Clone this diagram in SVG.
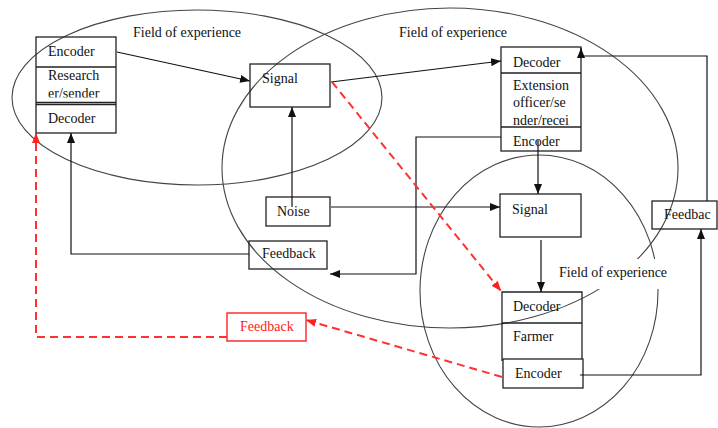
<svg xmlns="http://www.w3.org/2000/svg" width="718" height="428" viewBox="0 0 718 428">
<style>
  .t{font-family:"Liberation Serif","Times New Roman",serif;font-size:14px;fill:#111}
  .tr{font-family:"Liberation Serif","Times New Roman",serif;font-size:14px;fill:#ff1a1a}
  .box{fill:none;stroke:#222;stroke-width:1.3}
  .rbox{fill:#fff;stroke:#ff2020;stroke-width:1.4}
  .ell{fill:none;stroke:#444;stroke-width:1.1}
  .ln{fill:none;stroke:#111;stroke-width:1.2}
  .rd{fill:none;stroke:#ff3030;stroke-width:2;stroke-dasharray:8 5}
</style>
<defs>
  <marker id="ab" markerUnits="userSpaceOnUse" markerWidth="10" markerHeight="8" refX="10" refY="4" orient="auto">
    <path d="M0,0 L10,4 L0,8 z" fill="#111"/>
  </marker>
  <marker id="ar" markerUnits="userSpaceOnUse" markerWidth="10" markerHeight="8" refX="10" refY="4" orient="auto">
    <path d="M0,0 L10,4 L0,8 z" fill="#ff2020"/>
  </marker>
  <clipPath id="c1"><rect x="36" y="67" width="80" height="30.5"/></clipPath>
  <clipPath id="c2"><rect x="501" y="73" width="80" height="53"/></clipPath>
</defs>
<rect width="718" height="428" fill="#fff"/>

<g id="field1">
  <ellipse class="ell" cx="197" cy="97.5" rx="185" ry="87.5"/>
  <text class="t" x="133" y="37">Field of experience</text>
</g>
<g id="field2">
  <ellipse class="ell" cx="450" cy="168" rx="228" ry="160"/>
  <text class="t" x="399" y="37">Field of experience</text>
</g>
<g id="field3">
  <ellipse class="ell" cx="539" cy="291" rx="119" ry="136"/>
  <rect x="555" y="259" width="118" height="30" fill="#fff"/>
  <text class="t" x="559" y="277">Field of experience</text>
</g>

<g id="researcher">
  <rect class="box" x="36" y="37" width="80" height="96"/>
  <line class="box" x1="36" y1="67" x2="116" y2="67"/>
  <line class="box" x1="36" y1="102.5" x2="116" y2="102.5"/>
  <line class="box" x1="36" y1="104.5" x2="116" y2="104.5"/>
  <text class="t" x="48" y="56">Encoder</text>
  <g clip-path="url(#c1)">
    <text class="t" x="48" y="80">Research</text>
    <text class="t" x="48" y="98">er/sender</text>
  </g>
  <text class="t" x="48" y="123">Decoder</text>
</g>

<g id="signal1">
  <rect class="box" x="250" y="64" width="80" height="43"/>
  <text class="t" x="262" y="83">Signal</text>
</g>

<g id="extension">
  <rect class="box" x="501" y="47" width="80" height="104"/>
  <line class="box" x1="501" y1="73" x2="581" y2="73"/>
  <line class="box" x1="501" y1="127" x2="581" y2="127"/>
  <text class="t" x="513" y="67">Decoder</text>
  <g clip-path="url(#c2)">
    <text class="t" x="513" y="90">Extension</text>
    <text class="t" x="513" y="107">officer/se</text>
    <text class="t" x="513" y="124.5">nder/recei</text>
  </g>
  <text class="t" x="513" y="146">Encoder</text>
</g>

<g id="noise">
  <rect class="box" x="266" y="197" width="64" height="29"/>
  <text class="t" x="277" y="216">Noise</text>
</g>

<g id="feedback1">
  <rect class="box" x="249" y="241" width="78" height="28"/>
  <text class="t" x="262" y="258">Feedback</text>
</g>

<g id="signal2">
  <rect class="box" x="500" y="194" width="81" height="43"/>
  <text class="t" x="512" y="214">Signal</text>
</g>

<g id="feedback2">
  <rect class="box" x="652" y="201" width="65" height="28"/>
  <text class="t" x="664" y="219">Feedbac</text>
</g>

<g id="farmer">
  <path class="box" d="M502,361 V292 H582 V359"/>
  <line class="box" x1="502" y1="323" x2="582" y2="323"/>
  <text class="t" x="513" y="311">Decoder</text>
  <text class="t" x="513" y="341">Farmer</text>
</g>
<g id="farmer-encoder">
  <rect class="box" x="503" y="359" width="80" height="29"/>
  <text class="t" x="515" y="378">Encoder</text>
</g>

<g id="feedback-red">
  <rect class="rbox" x="227" y="313" width="79" height="28"/>
  <text class="tr" x="240" y="331">Feedback</text>
</g>

<g id="connectors">
  <line class="ln" x1="117" y1="52" x2="250" y2="81" marker-end="url(#ab)"/>
  <line class="ln" x1="331" y1="82" x2="501" y2="61" marker-end="url(#ab)"/>
  <line class="ln" x1="292" y1="207" x2="292" y2="107" marker-end="url(#ab)"/>
  <line class="ln" x1="331" y1="207" x2="500" y2="207" marker-end="url(#ab)"/>
  <path class="ln" d="M501,137 H416 V274 H330" marker-end="url(#ab)"/>
  <path class="ln" d="M249,254 H71 V133" marker-end="url(#ab)"/>
  <line class="ln" x1="538" y1="140" x2="538" y2="194" marker-end="url(#ab)"/>
  <line class="ln" x1="541" y1="240" x2="541" y2="292" marker-end="url(#ab)"/>
  <path class="ln" d="M580,375 H701 V229" marker-end="url(#ab)"/>
  <path class="ln" d="M707,201 V56 H581 V48" marker-end="url(#ab)"/>
  <line class="rd" x1="332" y1="82" x2="501" y2="291" marker-end="url(#ar)"/>
  <line class="rd" x1="502" y1="377" x2="306" y2="320" marker-end="url(#ar)"/>
  <path class="rd" d="M227,337 H36 V133" marker-end="url(#ar)"/>
</g>
</svg>
